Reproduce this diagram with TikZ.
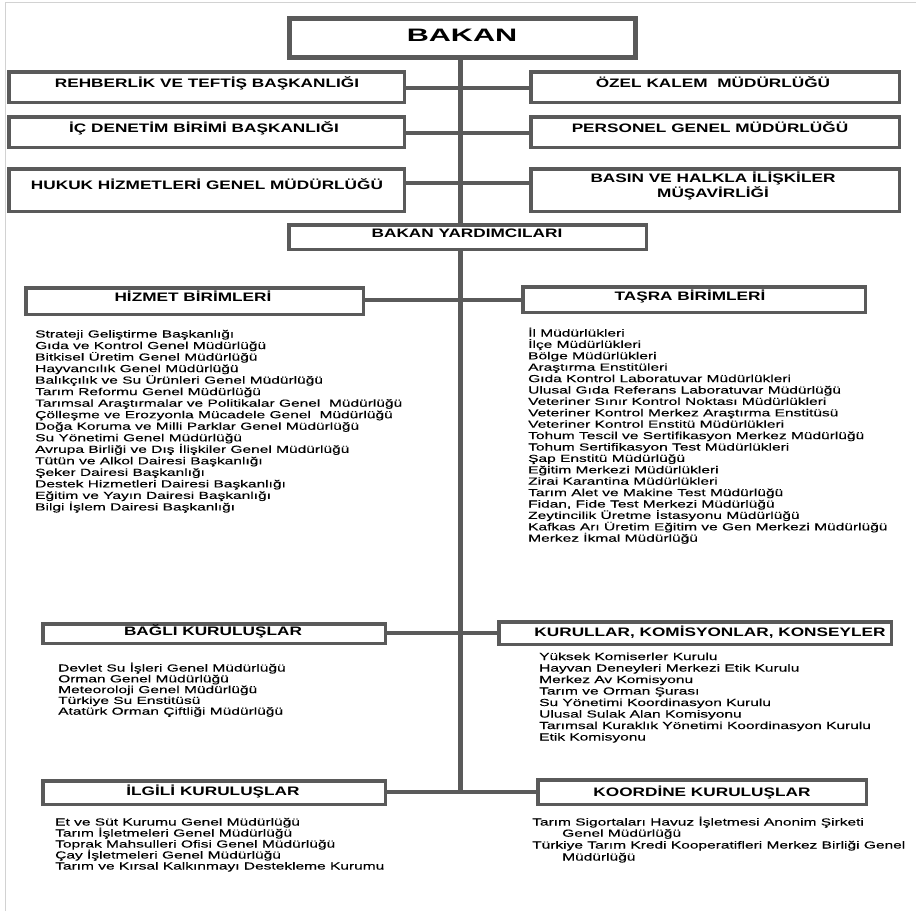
\documentclass[tikz,border=0pt]{standalone}
\usepackage{fontspec}
\setmainfont{Liberation Sans}[FakeStretch=1.52,FakeBold=0.25]
\newfontfamily\headfam{Liberation Sans}[FakeStretch=1.4]
\newfontfamily\bakanfam{Liberation Sans}[FakeStretch=1.7]
\definecolor{boxgray}{HTML}{5A5A5A}
\definecolor{framegray}{HTML}{D2D2D2}
\tikzset{
  box/.style={draw=boxgray, fill=white, inner sep=0pt, outer sep=0pt, anchor=north west},
  conn/.style={draw=boxgray, line width=3.5pt},
  trunkline/.style={draw=boxgray, line width=5pt},
  head/.style={anchor=base, inner sep=0pt, font=\headfam\bfseries\fontsize{12.3}{14}\selectfont},
  item/.style={anchor=base west, inner sep=0pt, font=\fontsize{10.2}{11}\selectfont},
}
% name, x1, y1, x2, y2, line width (outer edges in pixels)
\newcommand\mkbox[6]{%
  \node[box, line width=#6pt, minimum width={(#4-#2-#6)*1pt}, minimum height={(#5-#3-#6)*1pt}]
    (#1) at ({#2+#6/2},{#3+#6/2}) {};}
\begin{document}
\begin{tikzpicture}[x=1pt,y=-1pt]
\useasboundingbox (0,0) rectangle (916,911);
% light frame
\draw[framegray, line width=1pt] (5.5,911) -- (5.5,2.5) -- (916,2.5);

% boxes
\mkbox{bakan}{287}{16}{638}{60}{4.8}
\mkbox{reh}{7}{70}{406}{104}{3.5}
\mkbox{ozel}{529}{70}{901}{104}{3.5}
\mkbox{ic}{7}{115}{406}{149}{3.5}
\mkbox{pers}{529}{115}{901}{149}{3.5}
\mkbox{huk}{7}{167}{406}{213}{3.5}
\mkbox{basin}{529}{167}{901}{213}{3.5}
\mkbox{yard}{287}{223}{648}{251}{3.5}
\mkbox{hiz}{24}{286}{365}{316}{3.5}
\mkbox{tas}{521}{285}{867}{314}{3.5}
\mkbox{bagli}{41}{622}{387}{645}{3.5}
\mkbox{kur}{497}{620}{893}{646}{3.5}
\mkbox{ilg}{41}{779}{387}{806}{3.5}
\mkbox{koord}{536}{778}{868}{806}{3.5}

% trunk
\coordinate (tx) at (460,0);
\coordinate (tb) at (460,792);
\draw[trunkline] (bakan.south -| tx) -- (yard.north -| tx);
\draw[trunkline] (yard.south -| tx) -- (tb);

% connectors
\coordinate (c1) at (460,88);
\coordinate (c2) at (460,133);
\coordinate (c3) at (460,183);
\coordinate (c4) at (460,300);
\coordinate (c5) at (460,633);
\draw[conn] (reh.east |- c1) -- (ozel.west |- c1);
\draw[conn] (ic.east |- c2) -- (pers.west |- c2);
\draw[conn] (huk.east |- c3) -- (basin.west |- c3);
\draw[conn] (hiz.east |- c4) -- (tas.west |- c4);
\draw[conn] (bagli.east |- c5) -- (kur.west |- c5);
\draw[conn] (ilg.east |- tb) -- (koord.west |- tb);

% headings
\node[anchor=base, inner sep=0pt, font=\bakanfam\bfseries\fontsize{18}{20}\selectfont] (tbakan) at (462,41) {BAKAN};
\node[head] (treh) at (207,87.5) {REHBERLİK VE TEFTİŞ BAŞKANLIĞI};
\node[head] (tozel) at (713,87.5) {ÖZEL KALEM~ MÜDÜRLÜĞÜ};
\node[head] (tic) at (204,132.5) {İÇ DENETİM BİRİMİ BAŞKANLIĞI};
\node[head] (tpers) at (710,132.5) {PERSONEL GENEL MÜDÜRLÜĞÜ};
\node[head] (thuk) at (207,189.5) {HUKUK HİZMETLERİ GENEL MÜDÜRLÜĞÜ};
\node[head] (tbasa) at (713,182.5) {BASIN VE HALKLA İLİŞKİLER};
\node[head] (tbasb) at (713,197.5) {MÜŞAVİRLİĞİ};
\node[head] (tyard) at (467,237.5) {BAKAN YARDIMCILARI};
\node[head] (thiz) at (193,301.5) {HİZMET BİRİMLERİ};
\node[head] (ttas) at (690,300.5) {TAŞRA BİRİMLERİ};
\node[head] (tbagli) at (213,635.5) {BAĞLI KURULUŞLAR};
\node[head] (tkur) at (710,636.5) {KURULLAR, KOMİSYONLAR, KONSEYLER};
\node[head] (tilg) at (213,795.5) {İLGİLİ KURULUŞLAR};
\node[head] (tkoord) at (702,796.5) {KOORDİNE KURULUŞLAR};

% lists
\foreach \t [count=\i] in {
  Strateji Geliştirme Başkanlığı,
  Gıda ve Kontrol Genel Müdürlüğü,
  Bitkisel Üretim Genel Müdürlüğü,
  Hayvancılık Genel Müdürlüğü,
  Balıkçılık ve Su Ürünleri Genel Müdürlüğü,
  Tarım Reformu Genel Müdürlüğü,
  Tarımsal Araştırmalar ve Politikalar Genel~ Müdürlüğü,
  Çölleşme ve Erozyonla Mücadele Genel~ Müdürlüğü,
  Doğa Koruma ve Milli Parklar Genel Müdürlüğü,
  Su Yönetimi Genel Müdürlüğü,
  Avrupa Birliği ve Dış İlişkiler Genel Müdürlüğü,
  Tütün ve Alkol Dairesi Başkanlığı,
  Şeker Dairesi Başkanlığı,
  Destek Hizmetleri Dairesi Başkanlığı,
  Eğitim ve Yayın Dairesi Başkanlığı,
  Bilgi İşlem Dairesi Başkanlığı}
  \node[item] (hz\i) at (35,{337.5+(\i-1)*11.53}) {\t};

\foreach \t [count=\i] in {
  İl Müdürlükleri,
  İlçe Müdürlükleri,
  Bölge Müdürlükleri,
  Araştırma Enstitüleri,
  Gıda Kontrol Laboratuvar Müdürlükleri,
  Ulusal Gıda Referans Laboratuvar Müdürlüğü,
  Veteriner Sınır Kontrol Noktası Müdürlükleri,
  Veteriner Kontrol Merkez Araştırma Enstitüsü,
  Veteriner Kontrol Enstitü Müdürlükleri,
  Tohum Tescil ve Sertifikasyon Merkez Müdürlüğü,
  Tohum Sertifikasyon Test Müdürlükleri,
  Şap Enstitü Müdürlüğü,
  Eğitim Merkezi Müdürlükleri,
  Zirai Karantina Müdürlükleri,
  Tarım Alet ve Makine Test Müdürlüğü,
  {Fidan, Fide Test Merkezi Müdürlüğü},
  Zeytincilik Üretme İstasyonu Müdürlüğü,
  Kafkas Arı Üretim Eğitim ve Gen Merkezi Müdürlüğü,
  Merkez İkmal Müdürlüğü}
  \node[item] (ts\i) at (528,{336.5+(\i-1)*11.4}) {\t};

\foreach \t [count=\i] in {
  Devlet Su İşleri Genel Müdürlüğü,
  Orman Genel Müdürlüğü,
  Meteoroloji Genel Müdürlüğü,
  Türkiye Su Enstitüsü,
  Atatürk Orman Çiftliği Müdürlüğü}
  \node[item] (bg\i) at (58,{671.5+(\i-1)*10.8}) {\t};

\foreach \t [count=\i] in {
  Yüksek Komiserler Kurulu,
  Hayvan Deneyleri Merkezi Etik Kurulu,
  Merkez Av Komisyonu,
  Tarım ve Orman Şurası,
  Su Yönetimi Koordinasyon Kurulu,
  Ulusal Sulak Alan Komisyonu,
  Tarımsal Kuraklık Yönetimi Koordinasyon Kurulu,
  Etik Komisyonu}
  \node[item] (kr\i) at (539,{660+(\i-1)*11.5}) {\t};

\foreach \t [count=\i] in {
  Et ve Süt Kurumu Genel Müdürlüğü,
  Tarım İşletmeleri Genel Müdürlüğü,
  Toprak Mahsulleri Ofisi Genel Müdürlüğü,
  Çay İşletmeleri Genel Müdürlüğü,
  Tarım ve Kırsal Kalkınmayı Destekleme Kurumu}
  \node[item] (il\i) at (55,{825.5+(\i-1)*11}) {\t};

\node[item] (ko1) at (532,825.5) {Tarım Sigortaları Havuz İşletmesi Anonim Şirketi};
\node[item] (ko2) at (562,836.7) {Genel Müdürlüğü};
\node[item] (ko3) at (532,848.5) {Türkiye Tarım Kredi Kooperatifleri Merkez Birliği Genel};
\node[item] (ko4) at (562,860.5) {Müdürlüğü};
\end{tikzpicture}
\end{document}
